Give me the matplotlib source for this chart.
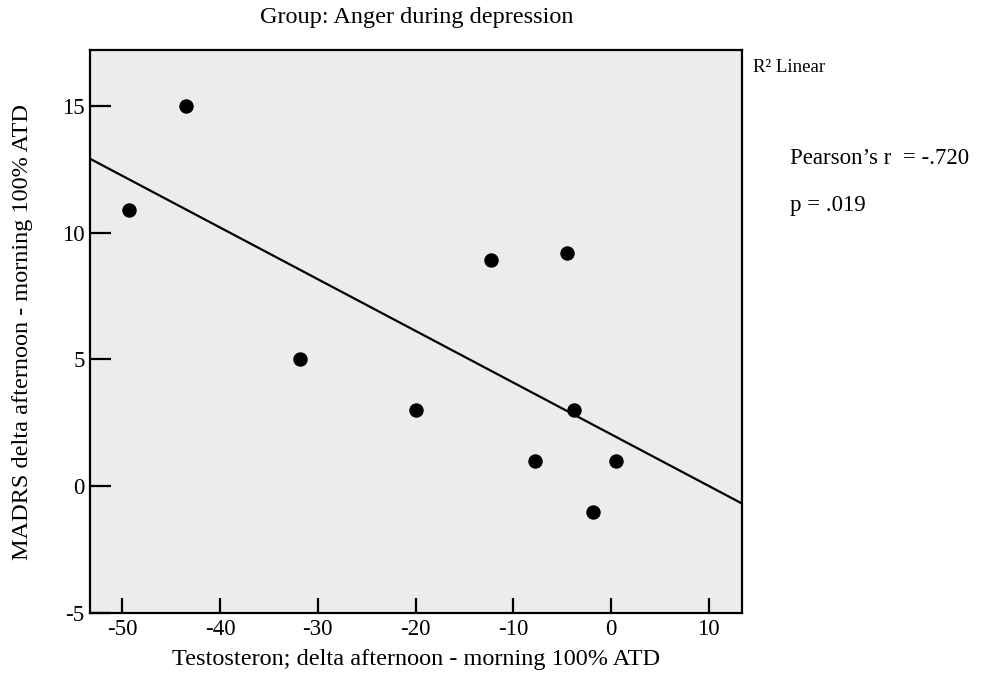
import numpy as np
import matplotlib
matplotlib.use("Agg")
import matplotlib.pyplot as plt

plt.rcParams['font.family'] = ['Liberation Serif', 'DejaVu Serif']

# testosterone delta vs MADRS delta, group: anger during depression
testosteron_delta = [-49.3, -43.5, -31.8, -20.0, -12.3, -4.5, -7.8, -3.8, 0.5, -1.8]
madrs_delta = [10.9, 15.0, 5.0, 3.0, 8.9, 9.2, 1.0, 3.0, 1.0, -1.0]
x_ticks = [-50, -40, -30, -20, -10, 0, 10]
y_ticks = [-5, 0, 5, 10, 15]

x_min, x_max = -53.3, 13.4
y_min, y_max = -5, 17.2

fig = plt.figure(figsize=(9.83, 6.85), dpi=100)
ax = fig.add_axes([0.0916, 0.1051, 0.6633, 0.8219])
ax.set_facecolor('#ececec')

ax.scatter(testosteron_delta, madrs_delta, s=88, color='black', zorder=3)

# linear fit line across the whole x range
slope, intercept = np.polyfit(testosteron_delta, madrs_delta, 1)
xs = np.array([x_min, x_max])
ax.plot(xs, slope * xs + intercept, color='black', linewidth=1.6, zorder=2)

ax.set_xlim(x_min, x_max)
ax.set_ylim(y_min, y_max)
ax.set_xticks(x_ticks)
ax.set_yticks(y_ticks)
ax.set_xticklabels([str(t) for t in x_ticks])
ax.set_yticklabels([str(t) for t in y_ticks])

for sp in ax.spines.values():
    sp.set_linewidth(1.6)
ax.tick_params(axis='x', direction='in', length=11, width=1.6, labelsize=16.5, pad=4)
ax.tick_params(axis='y', direction='in', length=15, width=1.6, labelsize=16.5, pad=4)

ax.set_xlabel('Testosteron; delta afternoon - morning 100% ATD', fontsize=17.5, va='center')
ax.xaxis.set_label_coords(0.5, -0.083)
ax.set_ylabel('MADRS delta afternoon - morning 100% ATD', fontsize=17.5, va='center')
ax.yaxis.set_label_coords(-0.104, 0.5)
fig.text(0.4235, 1 - 17 / 685, 'Group: Anger during depression', fontsize=17.5,
         ha='center', va='center')

fig.text(753 / 983, 1 - 67 / 685, 'R² Linear', fontsize=13.5, ha='left', va='center')
fig.text(790 / 983, 1 - 158 / 685, 'Pearson’s r  = -.720', fontsize=16.5, ha='left', va='center')
fig.text(790 / 983, 1 - 205 / 685, 'p = .019', fontsize=16.5, ha='left', va='center')

fig.savefig('out.png', dpi=100)
